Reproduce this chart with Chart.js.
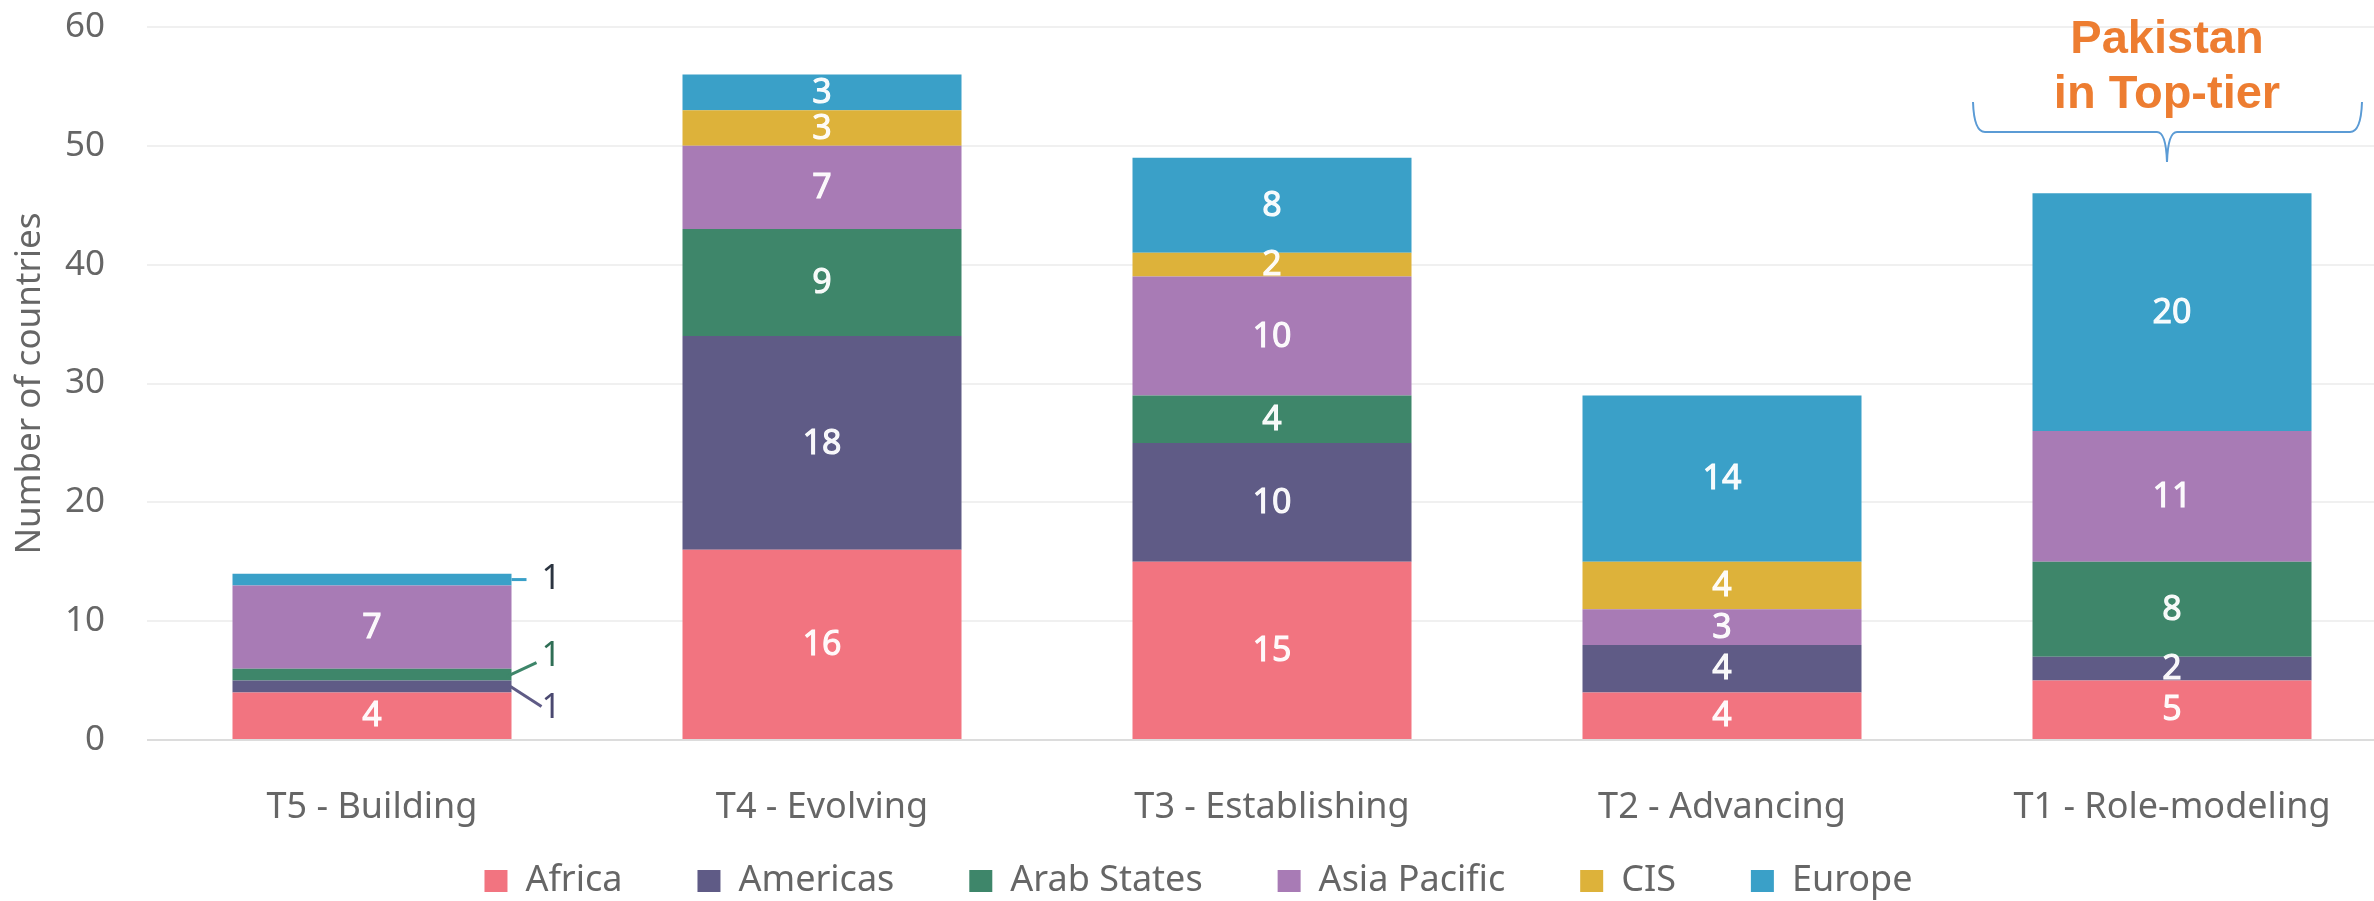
<!DOCTYPE html>
<html><head><meta charset="utf-8">
<script src="https://cdn.jsdelivr.net/npm/chart.js@4.4.0/dist/chart.umd.min.js"></script>
<style>
html,body{margin:0;padding:0;background:#fff;overflow:hidden;width:2374px;height:901px}
#wrap{position:absolute;left:0;top:0;width:2400px;height:901px}
</style>
</head><body><div id="wrap"><canvas id="c" width="2400" height="901"></canvas></div>
<script>
// ---- data ----
const categories = ['T5 - Building','T4 - Evolving','T3 - Establishing','T2 - Advancing','T1 - Role-modeling'];
const africa      = [4, 16, 15, 4, 5];
const americas    = [1, 18, 10, 4, 2];
const arabStates  = [1,  9,  4, 0, 8];
const asiaPacific = [7,  7, 10, 3, 11];
const cis         = [0,  3,  2, 4, 0];
const europe      = [1,  3,  8, 14, 20];
const seriesNames = ['Africa','Americas','Arab States','Asia Pacific','CIS','Europe'];
const yTickMin = 0, yTickMax = 60, yTickStep = 10;
const yTitle = 'Number of countries';
const annotationLines = ['Pakistan','in Top-tier'];
const annotationCategoryIndex = 4;

// ---- styles ----
const seriesColors = ['#F27480','#5F5B86','#3E866A','#A87BB5','#DDB23A','#3AA0C8'];
const outsideLabelColors = ['#333','#4a4870','#2f6e55','#6b4f78','#8a6d1f','#2b3440'];
const FONT = '"Noto Sans", "DejaVu Sans", sans-serif';
const LEGEND_GAP = '\u2002\u2002\u2009';

// leader-line styling for segments too thin to hold a label (per dataset index)
const leaderStyle = {
  5: {x1:0,  y1:0,  x2:15, y2:0,   tx:30, ty:0},
  2: {x1:-5, y1:2,  x2:25, y2:-12, tx:30, ty:-18},
  1: {x1:-1, y1:0,  x2:30, y2:20,  tx:30, ty:22}
};

const seriesData = [africa, americas, arabStates, asiaPacific, cis, europe];

const labelPlugin = {
  id: 'segLabels',
  afterDatasetsDraw(chart) {
    const ctx = chart.ctx;
    ctx.save();
    chart.data.datasets.forEach((ds, di) => {
      const meta = chart.getDatasetMeta(di);
      meta.data.forEach((el, i) => {
        const v = ds.data[i];
        if (!v) return;
        const top = el.y, base = el.base;
        const cy = (top + base) / 2;
        const h = Math.abs(base - top);
        if (h >= 20) {
          ctx.font = '34px ' + FONT;
          ctx.fillStyle = 'rgba(255,255,255,0.95)';
          ctx.strokeStyle = 'rgba(255,255,255,0.95)';
          ctx.lineWidth = 1;
          ctx.textAlign = 'center';
          ctx.textBaseline = 'middle';
          ctx.fillText(String(v), el.x, cy + 1);
          ctx.strokeText(String(v), el.x, cy + 1);
        } else {
          const st = leaderStyle[di] || {x1:0,y1:0,x2:15,y2:0,tx:30,ty:0};
          const right = el.x + el.width / 2;
          ctx.strokeStyle = seriesColors[di];
          ctx.lineWidth = 3;
          ctx.beginPath();
          ctx.moveTo(right + st.x1, cy + st.y1);
          ctx.lineTo(right + st.x2, cy + st.y2);
          ctx.stroke();
          ctx.font = '34px ' + FONT;
          ctx.fillStyle = outsideLabelColors[di];
          ctx.textAlign = 'left';
          ctx.textBaseline = 'middle';
          ctx.fillText(String(v), right + st.tx, cy + st.ty);
        }
      });
    });
    ctx.restore();
  }
};

const annotationPlugin = {
  id: 'annot',
  afterDraw(chart) {
    const ctx = chart.ctx;
    const el = chart.getDatasetMeta(0).data[annotationCategoryIndex];
    const ca = chart.chartArea;
    const cx = el.x - 5;
    const L = cx - 194, R = cx + 195;
    const yTop = ca.top + 75, yMid = ca.top + 105, yTip = ca.top + 135;
    ctx.save();
    ctx.strokeStyle = '#5B9BD5';
    ctx.lineWidth = 2;
    ctx.beginPath();
    ctx.moveTo(L, yTop);
    ctx.quadraticCurveTo(L + 1, yMid, L + 12, yMid);
    ctx.lineTo(cx - 10, yMid);
    ctx.quadraticCurveTo(cx - 1, yMid, cx, yTip);
    ctx.moveTo(cx, yTip);
    ctx.quadraticCurveTo(cx + 1, yMid, cx + 10, yMid);
    ctx.lineTo(R - 12, yMid);
    ctx.quadraticCurveTo(R - 1, yMid, R, yTop);
    ctx.stroke();
    ctx.font = 'bold 47px "Liberation Sans", Arial, sans-serif';
    ctx.fillStyle = '#ED7D31';
    ctx.textAlign = 'center';
    ctx.textBaseline = 'alphabetic';
    ctx.fillText(annotationLines[0], cx, ca.top + 26);
    ctx.fillText(annotationLines[1], cx, ca.top + 81);
    ctx.restore();
  }
};

Chart.defaults.font.family = FONT;

new Chart(document.getElementById('c'), {
  type: 'bar',
  data: {
    labels: categories,
    datasets: seriesNames.map((n, i) => ({
      label: n,
      data: seriesData[i],
      backgroundColor: seriesColors[i],
      borderWidth: 0,
      barPercentage: 0.62,
      categoryPercentage: 1.0
    }))
  },
  options: {
    responsive: false,
    animation: false,
    devicePixelRatio: 1,
    layout: { padding: { top: 27, right: 3, bottom: -8, left: 0 } },
    plugins: {
      tooltip: { enabled: false },
      legend: {
        position: 'bottom',
        labels: {
          font: { size: 36, family: FONT },
          color: '#666',
          boxWidth: 23,
          boxHeight: 22,
          padding: 33,
          generateLabels(chart) {
            const items = Chart.defaults.plugins.legend.labels.generateLabels(chart);
            items.forEach((it, k) => {
              if (k < items.length - 1) it.text = it.text + LEGEND_GAP;
              it.lineWidth = 0;
            });
            return items;
          }
        }
      }
    },
    scales: {
      x: {
        stacked: true,
        grid: { display: false },
        border: { display: false },
        ticks: { font: { size: 36, family: FONT }, color: '#666', padding: 38, maxRotation: 0 },
        afterFit(s) { s.height = 90; }
      },
      y: {
        stacked: true,
        min: yTickMin, max: yTickMax,
        ticks: { stepSize: yTickStep, font: { size: 35, family: FONT }, color: '#666', padding: 42 },
        grid: {
          drawTicks: false,
          lineWidth: 2,
          color: (c) => (c.tick && c.tick.value === 0) ? '#dcdcdc' : '#f0f0f0'
        },
        border: { display: false },
        title: {
          display: true, text: yTitle, color: '#666',
          font: { size: 35, family: FONT },
          padding: { top: 9, bottom: 0 }
        },
        afterFit(s) { s.width = 147; s.paddingTop = 0; s.paddingBottom = 0; }
      }
    }
  },
  plugins: [labelPlugin, annotationPlugin]
});
</script>
</body></html>
